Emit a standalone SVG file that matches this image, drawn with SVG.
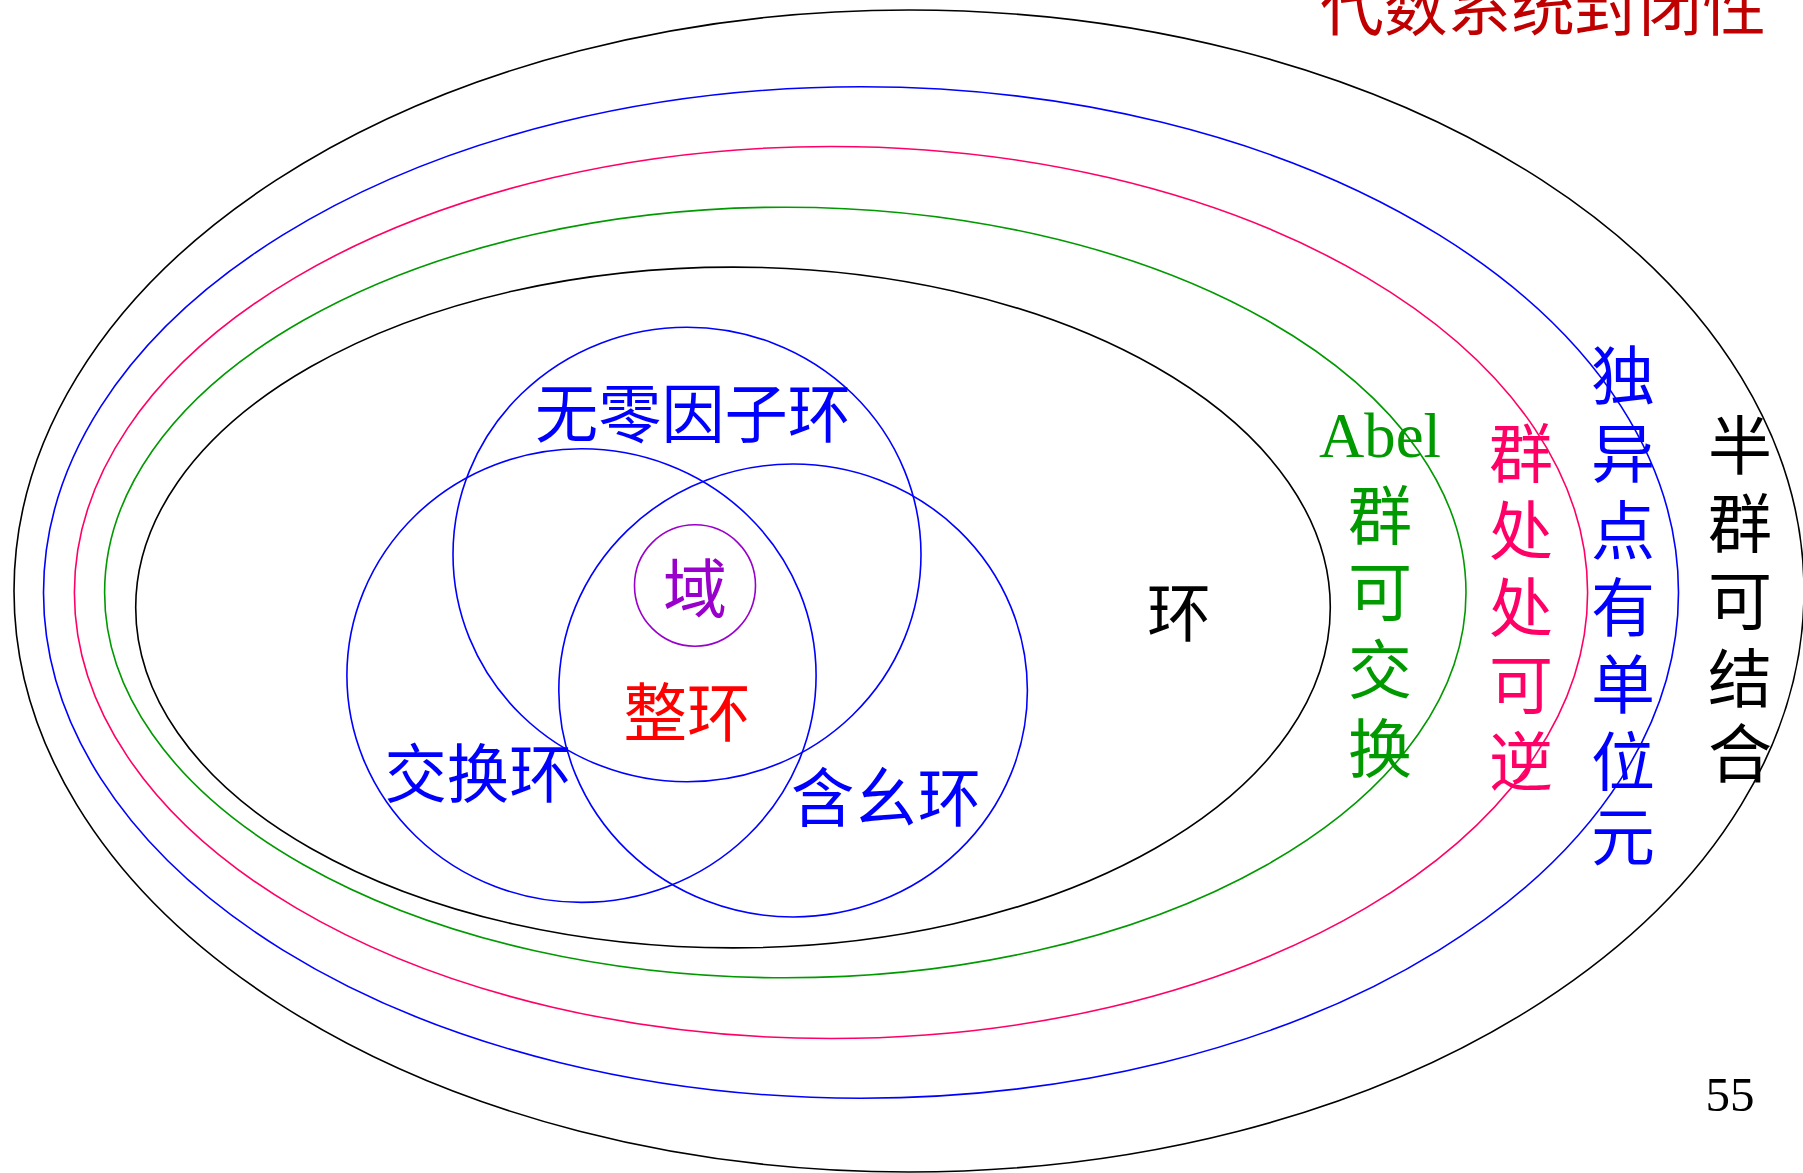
<svg xmlns="http://www.w3.org/2000/svg" width="1803" height="1173" viewBox="0 0 1803 1173">
<style>
.e{fill:none;stroke-width:1.6}
.cjk{font-family:"Noto Sans CJK SC","Noto Sans CJK TC",sans-serif;font-size:64px;text-anchor:middle}
.ser{font-family:"Liberation Serif","Times New Roman",serif}
</style>
<rect width="1803" height="1173" fill="#fff"/>
<text x="1543" y="30" class="cjk" fill="#C00000" textLength="446" lengthAdjust="spacingAndGlyphs">代数系统封闭性</text>

<g id="semigroup">
<ellipse class="e" cx="909" cy="591" rx="895" ry="581" stroke="#000"/>
<text class="cjk" fill="#000"><tspan x="1740" y="469">半</tspan><tspan x="1740" y="547">群</tspan><tspan x="1740" y="624">可</tspan><tspan x="1740" y="702">结</tspan><tspan x="1740" y="777">合</tspan></text>
</g>
<g id="monoid">
<ellipse class="e" cx="861" cy="592.5" rx="817.5" ry="505.7" stroke="#0000FF"/>
<text class="cjk" fill="#0000FF"><tspan x="1623" y="399">独</tspan><tspan x="1623" y="477">异</tspan><tspan x="1623" y="554">点</tspan><tspan x="1623" y="631">有</tspan><tspan x="1623" y="708">单</tspan><tspan x="1623" y="785">位</tspan><tspan x="1623" y="860">元</tspan></text>
</g>
<g id="group">
<ellipse class="e" cx="831" cy="592.5" rx="756.6" ry="446" stroke="#FF0066"/>
<text class="cjk" fill="#FF0066"><tspan x="1521" y="477">群</tspan><tspan x="1521" y="554">处</tspan><tspan x="1521" y="631">处</tspan><tspan x="1521" y="708">可</tspan><tspan x="1521" y="785">逆</tspan></text>
</g>
<g id="abelgroup">
<ellipse class="e" cx="785.3" cy="592.5" rx="680.7" ry="385.3" stroke="#009900"/>
<text x="1380" y="457" class="ser" font-size="64" text-anchor="middle" fill="#009900" textLength="122" lengthAdjust="spacingAndGlyphs">Abel</text>
<text class="cjk" fill="#009900"><tspan x="1380" y="539">群</tspan><tspan x="1380" y="615">可</tspan><tspan x="1380" y="693">交</tspan><tspan x="1380" y="772">换</tspan></text>
</g>
<g id="ring">
<ellipse class="e" cx="733" cy="607.5" rx="597.3" ry="340.4" stroke="#000"/>
<text x="1179" y="636" class="cjk" fill="#000">环</text>
</g>
<g id="nozerodivisor">
<ellipse class="e" cx="687" cy="554.5" rx="234" ry="227.3" stroke="#0000FF"/>
<text x="693" y="437" class="cjk" fill="#0000FF" textLength="316" lengthAdjust="spacingAndGlyphs">无零因子环</text>
</g>
<g id="commutative">
<ellipse class="e" cx="581.5" cy="675.6" rx="234.6" ry="226.8" stroke="#0000FF"/>
<text x="478" y="797" class="cjk" fill="#0000FF" textLength="187" lengthAdjust="spacingAndGlyphs">交换环</text>
</g>
<g id="unital">
<ellipse class="e" cx="793.1" cy="690.5" rx="234.3" ry="226.5" stroke="#0000FF"/>
<text x="886" y="821" class="cjk" fill="#0000FF" textLength="190" lengthAdjust="spacingAndGlyphs">含幺环</text>
</g>
<g id="integraldomain">
<text x="687" y="736" class="cjk" fill="#FF0000" textLength="127" lengthAdjust="spacingAndGlyphs">整环</text>
</g>
<g id="field">
<ellipse class="e" cx="695" cy="585.5" rx="60.5" ry="60.7" stroke="#9900CC"/>
<text x="695" y="612" class="cjk" fill="#9900CC">域</text>
</g>
<g id="connectors"/>
<text x="1730" y="1111" class="ser" font-size="49" text-anchor="middle" fill="#000">55</text>
</svg>
